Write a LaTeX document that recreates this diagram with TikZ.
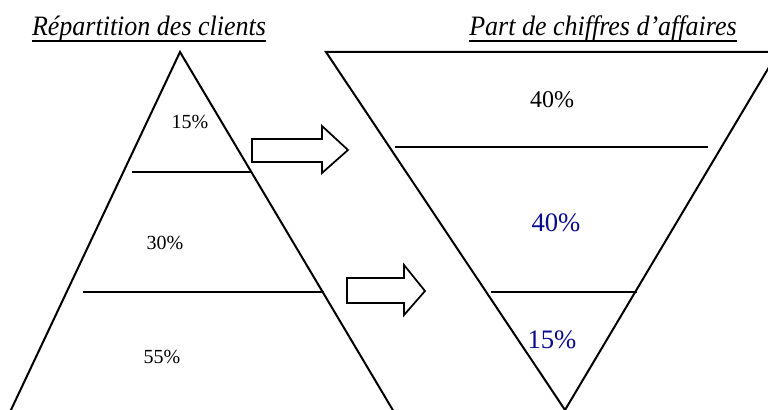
\documentclass[tikz,border=0pt]{standalone}
\usepackage{fontspec}
\setmainfont{Liberation Serif}
\definecolor{pctblue}{RGB}{10,10,140}
\begin{document}
\begin{tikzpicture}[x=0.75pt,y=-0.75pt,
  edge/.style={line width=1.5pt, line join=miter},
  divider/.style={line width=1.5pt},
  blockarrow/.style={line width=1.3pt, line join=miter, fill=white},
  title/.style={font=\fontsize{19.5}{22}\selectfont\itshape, inner sep=0pt, anchor=base},
  pctsmall/.style={font=\fontsize{15}{18}\selectfont, inner sep=0pt},
  pctmid/.style={font=\fontsize{18}{21}\selectfont, inner sep=0pt},
  pctblue/.style={font=\fontsize{20}{24}\selectfont, inner sep=0pt, text=pctblue}]
\useasboundingbox (0,0) rectangle (768,410);
\clip (0,0) rectangle (768,410);

% titles
\node[title] (t1) at (149,36) {\scalebox{1}[1.08]{Répartition des clients}};
\node[title] (t2) at (603,36) {\scalebox{1}[1.08]{Part de chiffres d’affaires}};
\draw[line width=1.4pt] ([yshift=-3.5pt]t1.base west) -- ([yshift=-3.5pt]t1.base east);
\draw[line width=1.4pt] ([yshift=-3.5pt]t2.base west) -- ([yshift=-3.5pt]t2.base east);

% left triangle
\draw[edge] (10,412) -- (180,52) -- (394,412);
\draw[divider] (132,172) -- (252,172);
\draw[divider] (83,292) -- (324,292);

% right (inverted) triangle
\draw[edge] (778,52) -- (326,52) -- (565,410) -- (778,52);
\draw[divider] (395,147) -- (708,147);
\draw[divider] (491,292) -- (637,292);

% block arrows
\draw[blockarrow] (252,139) -- (322,139) -- (322,126) -- (348,150) -- (322,173) -- (322,162) -- (252,162) -- cycle;
\draw[blockarrow] (347,278) -- (404,278) -- (404,265) -- (425,291) -- (404,315) -- (404,303) -- (347,303) -- cycle;

% labels
\node[pctsmall] (l15) at (190,122) {15\%};
\node[pctsmall] (l30) at (165,243) {30\%};
\node[pctsmall] (l55) at (162,357) {55\%};
\node[pctmid] (r40a) at (552,100) {40\%};
\node[pctblue] (r40b) at (556,223) {40\%};
\node[pctblue] (r15) at (552,340) {15\%};
\end{tikzpicture}
\end{document}
